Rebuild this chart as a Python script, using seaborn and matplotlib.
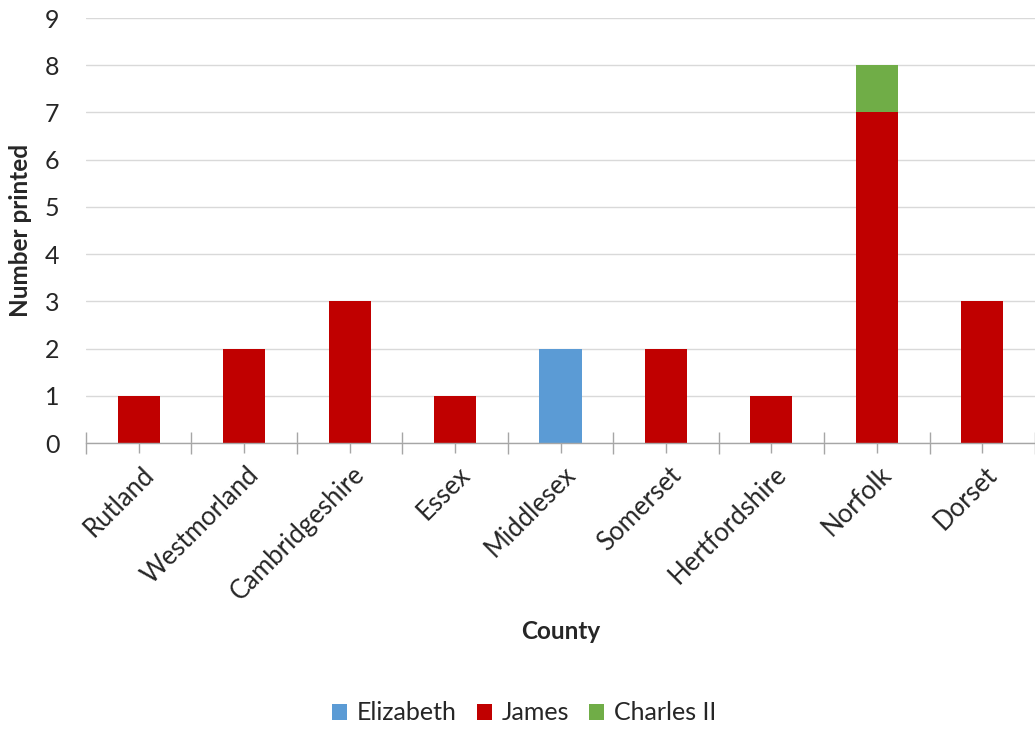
import numpy as np
import pandas as pd
import matplotlib
matplotlib.use("Agg")
import matplotlib.pyplot as plt
import seaborn as sns
from matplotlib.patches import Patch
from matplotlib.transforms import ScaledTranslation

counties = ["Rutland", "Westmorland", "Cambridgeshire", "Essex", "Middlesex",
            "Somerset", "Hertfordshire", "Norfolk", "Dorset"]
elizabeth = [0, 0, 0, 0, 2, 0, 0, 0, 0]
james = [1, 2, 3, 1, 0, 2, 1, 7, 3]
charles = [0, 0, 0, 0, 0, 0, 0, 1, 0]
series_names = ["Elizabeth", "James", "Charles II"]
colors = ["#5b9bd5", "#c00000", "#70ad47"]
yticks = list(range(0, 10))

sns.set_theme(style="white")
plt.rcParams['font.family'] = ['Lato', 'DejaVu Sans']

fig = plt.figure(figsize=(10.35, 7.29), dpi=100)
ax = fig.add_axes([86/1035, 1-443/729, 1-86/1035, (443-18)/729])

df = pd.DataFrame({"county": counties, "Elizabeth": elizabeth,
                   "James": james, "Charles II": charles})
bottom = np.zeros(len(counties))
for name, col in zip(series_names, colors):
    sns.barplot(data=df, x="county", y=name, order=counties, color=col,
                width=0.4, bottom=bottom, ax=ax, saturation=1, linewidth=0,
                zorder=3)
    bottom = bottom + df[name].values

ax.set_xlim(-0.5, len(counties) - 0.5)
ax.set_ylim(0, 9)
ax.set_yticks(yticks)
ax.set_yticklabels([str(v) for v in yticks], fontsize=18)
ax.yaxis.grid(True, color="#d9d9d9", linewidth=1, zorder=0)
ax.set_axisbelow(True)

ax.set_xticks(range(len(counties)))
ax.set_xticklabels(counties, rotation=45, ha="right", va="center",
                   rotation_mode="anchor", fontsize=18.5)
ax.set_xticks(np.arange(-0.5, len(counties), 1.0), minor=True)
ax.tick_params(axis="x", which="major", direction="inout", length=14,
               width=1, color="#a6a6a6", bottom=True, pad=13)
ax.tick_params(axis="x", which="minor", direction="inout", length=16,
               width=1, color="#a6a6a6", bottom=True)
ax.tick_params(axis="y", length=0, pad=19)
offset = ScaledTranslation(8/72, 0, fig.dpi_scale_trans)
for lab in ax.get_xticklabels():
    lab.set_transform(lab.get_transform() + offset)

for s in ["top", "right", "left"]:
    ax.spines[s].set_visible(False)
ax.spines["bottom"].set_color("#a6a6a6")
ax.spines["bottom"].set_linewidth(1)
ax.spines["bottom"].set_zorder(4)

ax.set_xlabel("County", fontsize=17.5, fontweight="bold")
ax.xaxis.set_label_coords(0.5, -(620-443)/425)
ax.set_ylabel("Number printed", fontsize=17.5, fontweight="bold")
ax.yaxis.set_label_coords(-(86-32)/949, 0.5)

handles = [Patch(facecolor=c, edgecolor="none", label=n)
           for n, c in zip(series_names, colors)]
fig.legend(handles=handles, loc="center", bbox_to_anchor=(524/1035, 1-713/729),
           ncol=3, frameon=False, fontsize=18, handlelength=0.6,
           handleheight=0.6, handletextpad=0.4, columnspacing=0.8)

fig.savefig("out.png", dpi=100)
